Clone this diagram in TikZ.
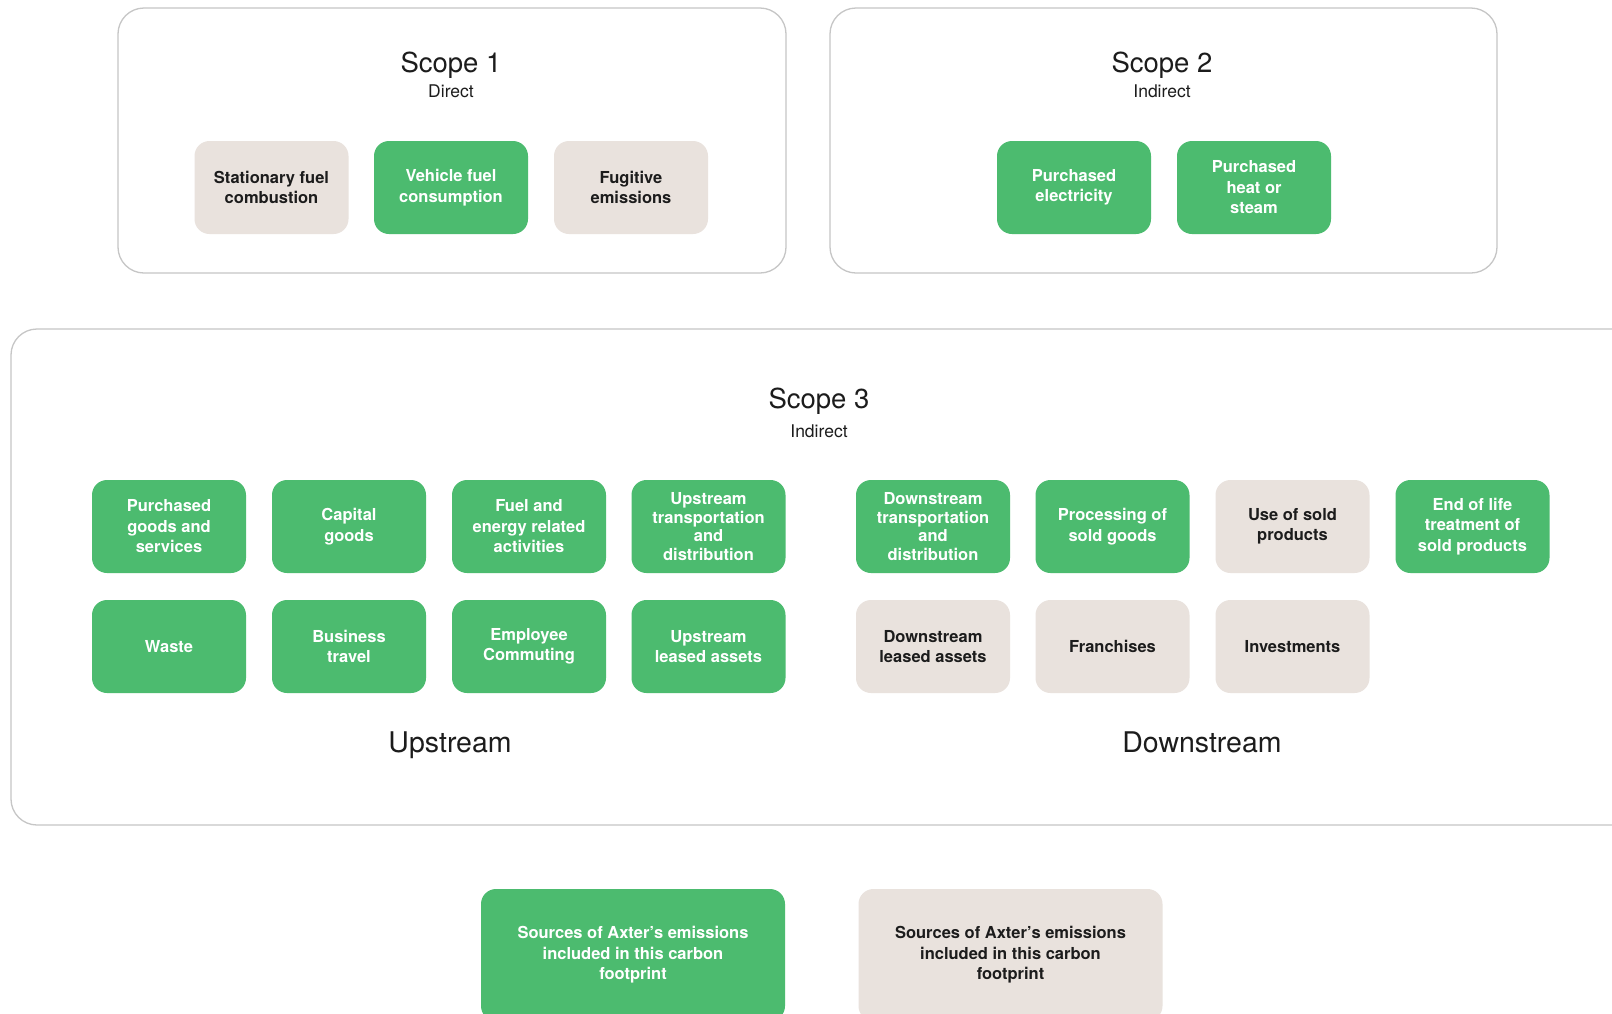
\documentclass[tikz,border=0pt]{standalone}
\usepackage{fontspec}
\setmainfont{TeX Gyre Heros}
\definecolor{grn}{HTML}{4CBB6F}
\definecolor{bge}{HTML}{E9E2DD}
\definecolor{frm}{HTML}{C6C6C6}
\definecolor{ink}{HTML}{1C1C1C}
\begin{document}
\begin{tikzpicture}[x=1pt,y=-1pt,
  frame/.style={draw=frm,line width=1.3pt,rounded corners=26pt},
  cell/.style={rectangle,rounded corners=15pt,minimum width=154pt,minimum height=93pt,inner sep=0pt,align=center,font=\bfseries\fontsize{16.5}{20.5}\selectfont},
  gcell/.style={cell,fill=grn,text=white},
  bcell/.style={cell,fill=bge,text=ink},
  tight/.style={font=\bfseries\fontsize{16.5}{18.5}\selectfont},
  ttl/.style={text=ink,font=\fontsize{27.5}{30}\selectfont,inner sep=0pt,anchor=base},
  sub/.style={text=ink,font=\fontsize{17.5}{20}\selectfont,inner sep=0pt,anchor=base},
  leg/.style={cell,minimum width=304pt,minimum height=132pt,font=\bfseries\fontsize{16.5}{20.5}\selectfont}
]
\useasboundingbox (0,0) rectangle (1612,1013);
\fill[white] (0,0) rectangle (1612,1013);
% frames
\draw[frame] (118,8) rectangle (786,273);
\draw[frame] (830,8) rectangle (1497,273);
\draw[frame] (11,329) rectangle (1650,825);
% scope 1
\node[ttl] (t1) at (451,72) {Scope 1};
\node[sub] (s1) at (451,97.5) {Direct};
\node[bcell] (a1) at (271.5,187.5) {Stationary fuel\\combustion};
\node[gcell] (a2) at (451,187.5) {Vehicle fuel\\consumption};
\node[bcell] (a3) at (631,187.5) {Fugitive\\emissions};
% scope 2
\node[ttl] (t2) at (1162,72) {Scope 2};
\node[sub] (s2) at (1162,97.5) {Indirect};
\node[gcell] (b1) at (1074,187.5) {Purchased\\electricity};
\node[gcell] (b2) at (1254,187.5) {Purchased\\heat or\\steam};
% scope 3
\node[ttl] (t3) at (819,408) {Scope 3};
\node[sub] (s3) at (819,437) {Indirect};
\node[gcell] (u1) at (169,526.5) {Purchased\\goods and\\services};
\node[gcell] (u2) at (349,526.5) {Capital\\goods};
\node[gcell] (u3) at (529,526.5) {Fuel and\\energy related\\activities};
\node[gcell,tight] (u4) at (708.5,526.5) {Upstream\\transportation\\and\\distribution};
\node[gcell] (u5) at (169,646.5) {Waste};
\node[gcell] (u6) at (349,646.5) {Business\\travel};
\node[gcell] (u7) at (529,646.5) {Employee\\Commuting};
\node[gcell] (u8) at (708.5,646.5) {Upstream\\leased assets};
\node[gcell,tight] (d1) at (933,526.5) {Downstream\\transportation\\and\\distribution};
\node[gcell] (d2) at (1112.5,526.5) {Processing of\\sold goods};
\node[bcell] (d3) at (1292.5,526.5) {Use of sold\\products};
\node[gcell] (d4) at (1472.5,526.5) {End of life\\treatment of\\sold products};
\node[bcell] (d5) at (933,646.5) {Downstream\\leased assets};
\node[bcell] (d6) at (1112.5,646.5) {Franchises};
\node[bcell] (d7) at (1292.5,646.5) {Investments};
\node[ttl,font=\fontsize{28.5}{30}\selectfont] (up) at (450,752.5) {Upstream};
\node[ttl,font=\fontsize{28.5}{30}\selectfont] (dn) at (1202,752.5) {Downstream};
% legend
\node[leg,fill=grn,text=white] (l1) at (633,955) {Sources of Axter's emissions\\included in this carbon\\footprint};
\node[leg,fill=bge,text=ink] (l2) at (1010.5,955) {Sources of Axter's emissions\\included in this carbon\\footprint};
\end{tikzpicture}
\end{document}
